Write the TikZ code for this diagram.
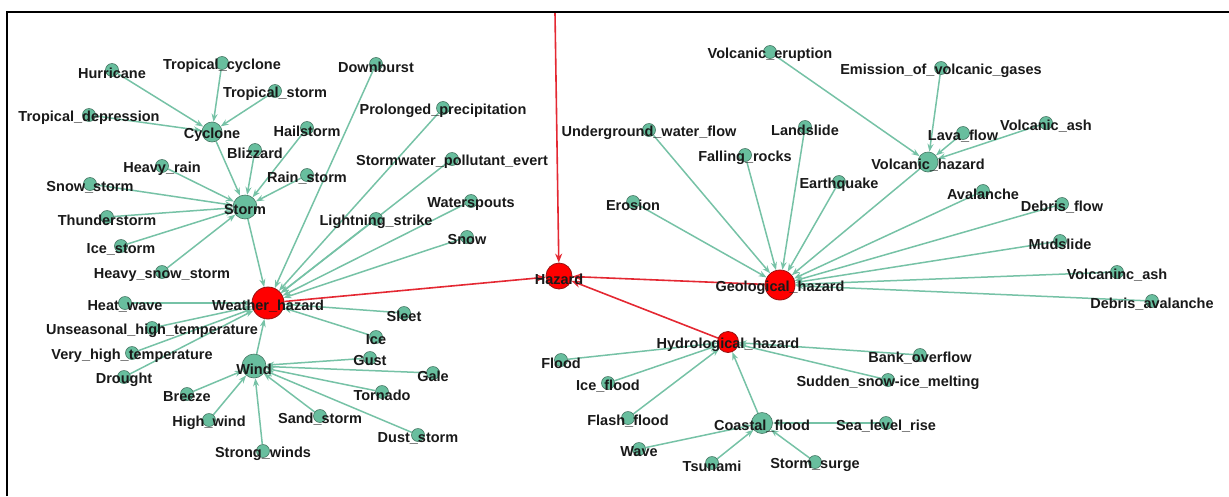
\documentclass[tikz,border=0pt]{standalone}
\usepackage{fontspec}
\setmainfont{Liberation Sans}
\usetikzlibrary{arrows.meta}
\pgfdeclarelayer{edges}
\pgfsetlayers{edges,main}
\definecolor{leafcol}{RGB}{104,190,158}
\definecolor{leafline}{RGB}{70,120,100}
\definecolor{linkcol}{RGB}{118,194,166}
\definecolor{hazcol}{RGB}{255,0,0}
\definecolor{hazline}{RGB}{150,20,20}
\definecolor{hazedge}{RGB}{228,40,50}
\tikzset{
  tag/.style = {font = \fontsize{14.5}{16}\selectfont\bfseries, text = black!90, inner sep = 0pt, yshift = -3pt},
  leaf/.style = {circle, draw = leafline, fill = leafcol, line width = 0.6pt, inner sep = 0pt, minimum size = 13pt},
  hub/.style = {leaf, minimum size = 22pt},
  haz/.style = {circle, draw = hazline, fill = hazcol, line width = 0.8pt, inner sep = 0pt},
  link/.style = {draw = linkcol, line width = 1.5pt, -{Stealth[length = 8pt, width = 6pt]}},
  hazlink/.style = {draw = hazedge, line width = 1.6pt, -{Stealth[length = 9pt, width = 7pt]}}
}
\begin{document}
\begin{tikzpicture}[x = 1pt, y = -1pt]
\useasboundingbox (0,0) rectangle (1229,496);
\draw[line width = 1.8pt] (7,496) -- (7,12) -- (1229,12);
\foreach \name/\x/\y/\txt in {
  hurricane/112/70/Hurricane, tropCyclone/222/63/Tropical\_cyclone, tropStorm/275/91/Tropical\_storm,
  tropDepression/89/115/Tropical\_depression, blizzard/255/150/Blizzard, hailstorm/307/128/Hailstorm,
  heavyRain/162/166/Heavy\_rain, snowStorm/90/184/Snow\_storm, rainStorm/307/175/Rain\_storm,
  thunderstorm/107/217/Thunderstorm, iceStorm/121/246/Ice\_storm, heavySnowStorm/162/272/Heavy\_snow\_storm,
  heatWave/125/303/Heat\_wave, unseasonal/152/328/Unseasonal\_high\_temperature,
  veryHigh/132/353/Very\_high\_temperature, drought/124/377/Drought, breeze/187/394/Breeze,
  highWind/209/420/High\_wind, strongWinds/263/451/Strong\_winds, sleet/404/313/Sleet, ice/376/337/Ice,
  gust/370/358/Gust, gale/433/373/Gale, tornado/382/392/Tornado, sandStorm/320/416/Sand\_storm,
  dustStorm/418/435/Dust\_storm, downburst/376/64/Downburst, prolonged/443/108/Prolonged\_precipitation,
  stormwater/452/159/Stormwater\_pollutant\_evert, waterspouts/471/201/Waterspouts,
  lightning/376/219/Lightning\_strike, snow/467/237/Snow,
  flood/561/360/Flood, iceFlood/608/383/Ice\_flood, flashFlood/628/418/Flash\_flood, wave/639/449/Wave,
  tsunami/712/463/Tsunami, stormSurge/815/462/Storm\_surge, seaLevel/886/423/Sea\_level\_rise,
  sudden/888/380/Sudden\_snow-ice\_melting, bankOverflow/920/355/Bank\_overflow,
  mudslide/1060/241/Mudslide, volcAshLow/1117/272/Volcaninc\_ash, debrisAval/1152/301/Debris\_avalanche,
  emission/941/68/Emission\_of\_volcanic\_gases, lavaFlow/963/133/Lava\_flow, volcAsh/1046/123/Volcanic\_ash,
  avalanche/983/191/Avalanche, debrisFlow/1062/204/Debris\_flow, eruption/770/52/Volcanic\_eruption,
  underground/649/130/Underground\_water\_flow, landslide/805/127/Landslide,
  fallingRocks/745/155/Falling\_rocks, earthquake/839/182/Earthquake, erosion/633/202/Erosion}
  \node[leaf, label = {[tag]center:\txt}] (\name) at (\x,\y) {};
\foreach \name/\x/\y/\r/\txt in {
  cyclone/212/132/20/Cyclone, storm/245/207/24/Storm, wind/254/366/24/Wind,
  volcHazard/928/162/20/Volcanic\_hazard, coastal/762/423/21/Coastal\_flood}
  \node[hub, minimum size = \r pt, label = {[tag]center:\txt}] (\name) at (\x,\y) {};
\foreach \name/\x/\y/\r/\txt in {
  weather/268/303/32/Weather\_hazard, geological/780/285/30/Geological\_hazard,
  hazard/559/276/26/Hazard, hydro/728/342/21/Hydrological\_hazard}
  \node[haz, minimum size = \r pt, label = {[tag]center:\txt}] (\name) at (\x,\y) {};
\coordinate (feed) at (555,13);
\begin{pgfonlayer}{edges}
\foreach \a/\b in {
  hurricane/cyclone, tropCyclone/cyclone, tropStorm/cyclone, tropDepression/cyclone,
  cyclone/storm, blizzard/storm, hailstorm/storm, rainStorm/storm, heavyRain/storm, snowStorm/storm,
  thunderstorm/storm, iceStorm/storm, heavySnowStorm/storm,
  storm/weather, downburst/weather, prolonged/weather, stormwater/weather, lightning/weather,
  waterspouts/weather, snow/weather, heatWave/weather, unseasonal/weather, veryHigh/weather,
  drought/weather, wind/weather, sleet/weather, ice/weather,
  gust/wind, gale/wind, tornado/wind, sandStorm/wind, dustStorm/wind, breeze/wind, highWind/wind,
  strongWinds/wind,
  eruption/volcHazard, emission/volcHazard, lavaFlow/volcHazard, volcAsh/volcHazard,
  underground/geological, erosion/geological, fallingRocks/geological, landslide/geological,
  earthquake/geological, volcHazard/geological, avalanche/geological, debrisFlow/geological,
  mudslide/geological, volcAshLow/geological, debrisAval/geological,
  flood/hydro, iceFlood/hydro, flashFlood/hydro, coastal/hydro, bankOverflow/hydro, sudden/hydro,
  wave/coastal, tsunami/coastal, stormSurge/coastal, seaLevel/coastal}
  \draw[link] (\a) -- (\b);
\foreach \a in {feed, weather, geological, hydro}
  \draw[hazlink] (\a) -- (hazard);
\end{pgfonlayer}
\end{tikzpicture}
\end{document}
